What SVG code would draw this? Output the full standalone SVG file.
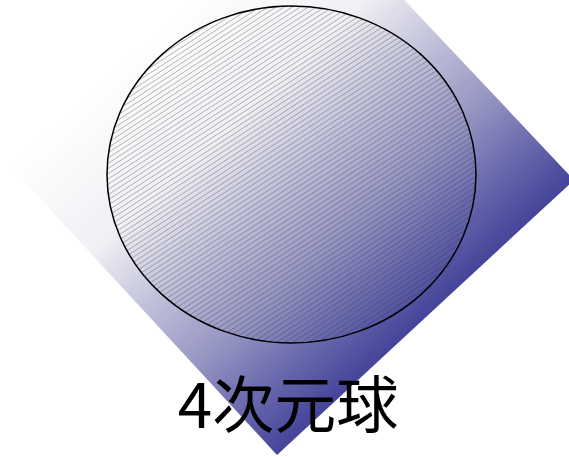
<svg xmlns="http://www.w3.org/2000/svg" width="569" height="457" viewBox="0 0 569 457">
  <style>
    .label { font-family: "Noto Sans CJK JP", "Noto Sans", sans-serif; font-size: 62px; fill: #000; }
    .ball { fill: url(#hatch); stroke: #000; stroke-width: 1.5; }
  </style>
  <defs>
    <linearGradient id="grad" gradientUnits="userSpaceOnUse" x1="10" y1="166" x2="277" y2="455">
      <stop offset="0" stop-color="#ffffff"/>
      <stop offset="0.3" stop-color="#f0f0f5"/>
      <stop offset="0.5" stop-color="#c0c0da"/>
      <stop offset="0.7" stop-color="#9494c2"/>
      <stop offset="0.85" stop-color="#6a6aae"/>
      <stop offset="1" stop-color="#44449a"/>
    </linearGradient>
    <pattern id="hatch" patternUnits="userSpaceOnUse" width="12" height="4.4" patternTransform="rotate(-33)">
      <line x1="0" y1="2.2" x2="12" y2="2.2" stroke="#333" stroke-width="0.5" stroke-opacity="0.65"/>
    </pattern>
  </defs>
  <g id="diamond">
    <polygon points="310,-100 574,180 277,455 10,166" fill="url(#grad)"/>
  </g>
  <g id="sphere">
    <ellipse class="ball" cx="291.5" cy="174.5" rx="184.5" ry="168.5"/>
  </g>
  <g id="connectors"></g>
  <g id="caption">
    <text class="label" x="288" y="428" text-anchor="middle">4次元球</text>
  </g>
</svg>
